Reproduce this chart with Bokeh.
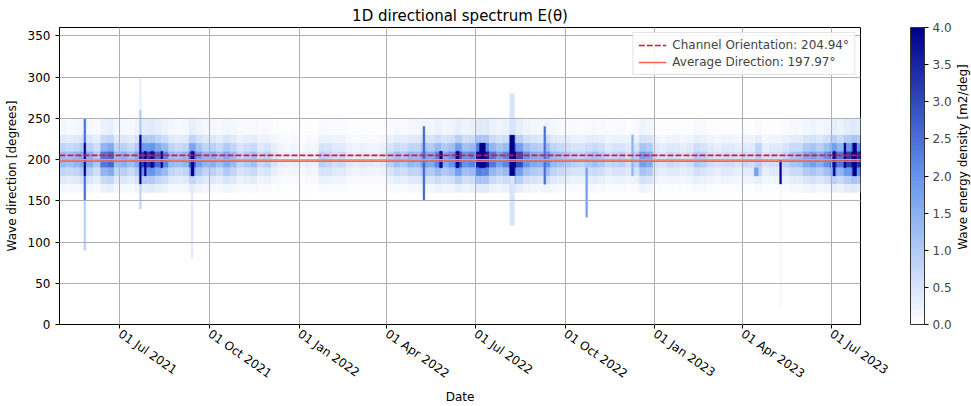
import math
from datetime import datetime, timedelta

from bokeh.plotting import figure
from bokeh.layouts import row
from bokeh.models import (LinearColorMapper, ColorBar, FixedTicker, PrintfTickFormatter,
                          DatetimeTickFormatter, Range1d, Legend, LegendItem, Label,
                          ColumnDataSource)
from bokeh.embed import file_html
from bokeh.resources import INLINE

# ---------------- data ----------------
start_date = "2021-04-30"
end_date = "2023-07-31"
bin_days = 7

# weekly energy density [m2/deg] in the 190-210 deg core
core = [1.3, 1.2, 1.4, 1.6, 1.5, 1.0, 2.4, 2.6, 1.3, 1.5,
        1.2, 1.6, 3.2, 3.4, 2.6, 2.2, 1.3, 1.2, 1.4, 2.8,
        1.8, 1.4, 1.5, 1.2, 1.6, 1.3, 0.8, 1.0, 1.2, 0.7,
        0.9, 0.5, 0.3, 0.25, 0.3, 0.2, 0.3, 0.25, 0.9, 0.8,
        0.6, 0.7, 0.4, 0.3, 0.4, 0.35, 0.3, 0.4, 0.9, 1.2,
        1.0, 1.4, 1.3, 1.8, 1.6, 2.2, 1.6, 2.0, 3.0, 2.0,
        2.2, 3.8, 3.6, 2.4, 1.8, 2.2, 4.2, 3.0, 2.0, 1.6,
        1.5, 2.0, 1.3, 1.2, 1.0, 0.9, 0.8, 1.0, 1.2, 1.0,
        0.7, 0.8, 0.9, 0.6, 0.9, 1.8, 1.6, 0.6, 0.5, 0.7,
        0.6, 0.5, 0.6, 1.0, 0.9, 0.6, 0.5, 0.6, 0.6, 0.5,
        0.7, 0.6, 0.9, 0.5, 0.6, 0.6, 0.8, 1.1, 1.2, 1.6,
        1.8, 1.5, 2.0, 3.0, 2.4, 3.2, 3.6, 3.4]

# 180-190 and 210-220 deg
shoulder = [0.8, 0.7, 0.8, 1.0, 0.9, 0.6, 1.4, 1.6, 0.8, 0.9,
            0.7, 1.0, 1.9, 2.0, 1.6, 1.3, 0.8, 0.7, 0.8, 1.7,
            1.1, 0.8, 0.9, 0.7, 1.0, 0.8, 0.5, 0.6, 0.7, 0.4,
            0.5, 0.3, 0.2, 0.15, 0.2, 0.1, 0.2, 0.15, 0.5, 0.5,
            0.4, 0.4, 0.25, 0.2, 0.25, 0.2, 0.2, 0.25, 0.5, 0.7,
            0.6, 0.8, 0.8, 1.1, 1.0, 1.3, 1.0, 1.2, 1.8, 1.2,
            1.3, 2.3, 2.2, 1.4, 1.1, 1.3, 2.5, 1.8, 1.2, 1.0,
            0.9, 1.2, 0.8, 0.7, 0.6, 0.5, 0.5, 0.6, 0.7, 0.6,
            0.4, 0.5, 0.5, 0.4, 0.5, 1.1, 1.0, 0.4, 0.3, 0.4,
            0.4, 0.3, 0.4, 0.6, 0.5, 0.4, 0.3, 0.4, 0.4, 0.3,
            0.4, 0.4, 0.8, 0.3, 0.4, 0.4, 0.5, 0.7, 0.7, 1.0,
            1.1, 0.9, 1.2, 1.8, 1.4, 1.9, 2.2, 2.0]

# 170-180 and 220-230 deg
edge = [0.4, 0.35, 0.4, 0.5, 0.45, 0.3, 0.7, 0.8, 0.4, 0.45,
        0.35, 0.5, 1.0, 1.0, 0.8, 0.65, 0.4, 0.35, 0.4, 0.8,
        0.55, 0.4, 0.45, 0.35, 0.5, 0.4, 0.25, 0.3, 0.35, 0.2,
        0.25, 0.15, 0.1, 0.08, 0.1, 0.06, 0.1, 0.08, 0.25, 0.25,
        0.2, 0.2, 0.12, 0.1, 0.12, 0.1, 0.1, 0.12, 0.25, 0.35,
        0.3, 0.4, 0.4, 0.55, 0.5, 0.65, 0.5, 0.6, 0.9, 0.6,
        0.65, 1.1, 1.1, 0.7, 0.55, 0.65, 1.3, 0.9, 0.6, 0.5,
        0.45, 0.6, 0.4, 0.35, 0.3, 0.25, 0.25, 0.3, 0.35, 0.3,
        0.2, 0.25, 0.25, 0.2, 0.25, 0.55, 0.5, 0.2, 0.15, 0.2,
        0.2, 0.15, 0.2, 0.3, 0.25, 0.2, 0.15, 0.2, 0.2, 0.15,
        0.2, 0.2, 0.3, 0.15, 0.2, 0.2, 0.25, 0.35, 0.35, 0.5,
        0.55, 0.45, 0.6, 0.9, 0.7, 0.95, 1.1, 1.0]

# 160-170 and 230-250 deg
tail = [0.15, 0.12, 0.15, 0.2, 0.15, 0.1, 0.25, 0.3, 0.15, 0.15,
        0.12, 0.2, 0.35, 0.4, 0.3, 0.25, 0.15, 0.12, 0.15, 0.3,
        0.2, 0.15, 0.15, 0.12, 0.18, 0.15, 0.1, 0.1, 0.12, 0.08,
        0.1, 0.06, 0.04, 0.03, 0.04, 0.03, 0.04, 0.03, 0.1, 0.1,
        0.08, 0.08, 0.05, 0.04, 0.05, 0.04, 0.04, 0.05, 0.1, 0.12,
        0.1, 0.15, 0.15, 0.2, 0.18, 0.25, 0.18, 0.2, 0.3, 0.2,
        0.25, 0.4, 0.4, 0.25, 0.2, 0.25, 0.45, 0.3, 0.2, 0.18,
        0.15, 0.2, 0.15, 0.12, 0.1, 0.1, 0.08, 0.1, 0.12, 0.1,
        0.08, 0.08, 0.1, 0.06, 0.1, 0.2, 0.18, 0.06, 0.05, 0.07,
        0.06, 0.05, 0.06, 0.1, 0.1, 0.06, 0.05, 0.06, 0.06, 0.05,
        0.07, 0.06, 0.1, 0.05, 0.06, 0.06, 0.08, 0.12, 0.12, 0.18,
        0.2, 0.15, 0.2, 0.3, 0.25, 0.35, 0.4, 0.35]

# short energetic events
spike_dates = ["2021-05-25", "2021-05-25", "2021-05-25", "2021-05-25",
               "2021-07-21", "2021-07-21", "2021-07-21", "2021-07-21",
               "2021-07-26", "2021-08-02", "2021-08-12", "2021-09-12", "2021-09-12",
               "2022-05-08", "2022-05-25", "2022-06-11", "2022-07-05",
               "2022-08-05", "2022-08-05", "2022-08-05", "2022-09-09",
               "2022-10-22", "2022-12-08", "2023-04-13", "2023-05-09", "2023-05-09",
               "2023-07-03", "2023-07-14", "2023-07-23"]
spike_days = [2, 2, 2, 2, 2, 2, 2, 2, 2, 2, 2, 3, 2, 2, 3, 3, 6, 5, 5, 5, 2, 2, 2, 4, 2, 2, 2, 2, 4]
spike_lo = [180, 220, 150, 90, 170, 230, 260, 140, 180, 190, 190, 180, 80,
            150, 190, 190, 190, 180, 230, 120, 170, 130, 180, 180, 170, 20,
            180, 190, 180]
spike_hi = [220, 250, 180, 150, 230, 260, 300, 170, 210, 210, 210, 210, 170,
            240, 210, 210, 220, 230, 280, 180, 240, 190, 230, 190, 200, 170,
            210, 220, 220]
spike_val = [4.5, 2.5, 2.5, 0.9, 4.5, 1.0, 0.3, 0.8, 4.5, 4.5, 4.2, 4.5, 0.4,
             2.6, 4.5, 4.0, 4.2, 4.5, 0.5, 0.5, 2.5, 1.8, 1.4, 1.8, 4.5, 0.15,
             4.5, 4.5, 4.5]

channel_orientation = 204.94
average_direction = 197.97

x_tick_dates = ["2021-07-01", "2021-10-01", "2022-01-01", "2022-04-01", "2022-07-01",
                "2022-10-01", "2023-01-01", "2023-04-01", "2023-07-01"]
y_ticks = [0, 50, 100, 150, 200, 250, 300, 350]
cbar_ticks = [0.0, 0.5, 1.0, 1.5, 2.0, 2.5, 3.0, 3.5, 4.0]

# ---------------- helpers ----------------
EPOCH = datetime(1970, 1, 1)


def ms(d):
    if isinstance(d, str):
        d = datetime.strptime(d, "%Y-%m-%d")
    return (d - EPOCH).total_seconds() * 1000.0


t0 = datetime.strptime(start_date, "%Y-%m-%d")
t_end = datetime.strptime(end_date, "%Y-%m-%d")

bands = [(190, 210, core), (180, 190, shoulder), (210, 220, shoulder),
         (170, 180, edge), (220, 230, edge), (160, 170, tail), (230, 250, tail)]

L, R, B, T, V = [], [], [], [], []
for lo, hi, arr in bands:
    for i, v in enumerate(arr):
        a = t0 + timedelta(days=bin_days * i)
        b = min(a + timedelta(days=bin_days), t_end)
        if a >= t_end:
            continue
        L.append(ms(a)); R.append(ms(b)); B.append(lo); T.append(hi); V.append(v)

for d, n, lo, hi, v in zip(spike_dates, spike_days, spike_lo, spike_hi, spike_val):
    a = datetime.strptime(d, "%Y-%m-%d")
    L.append(ms(a)); R.append(ms(a + timedelta(days=n))); B.append(lo); T.append(hi); V.append(v)

src = ColumnDataSource(dict(left=L, right=R, bottom=B, top=T, v=V))


def lerp_palette(stops, n=256):
    out = []
    for k in range(n):
        f = k / (n - 1) * (len(stops) - 1)
        j = min(int(f), len(stops) - 2)
        u = f - j
        c0, c1 = stops[j], stops[j + 1]
        rgb = [round(c0[m] + (c1[m] - c0[m]) * u) for m in range(3)]
        out.append("#%02x%02x%02x" % tuple(rgb))
    return out


palette = lerp_palette([(255, 255, 255), (100, 149, 237), (0, 0, 139)])
mapper = LinearColorMapper(palette=palette, low=0.0, high=4.0)

FONT = "DejaVu Sans"
MAIN_W = 954
STRIP_W = 971 - MAIN_W
H = 406

p = figure(width=MAIN_W, height=H, x_axis_type="datetime",
           output_backend="svg", toolbar_location=None,
           x_range=Range1d(ms(t0), ms(t_end)), y_range=Range1d(0, 360),
           min_border_left=59, min_border_right=93, min_border_top=27, min_border_bottom=79)
p.border_fill_color = "white"

p.quad(left="left", right="right", bottom="bottom", top="top", source=src,
       fill_color={"field": "v", "transform": mapper},
       line_color={"field": "v", "transform": mapper}, line_width=0.3)

xs = [ms(t0), ms(t_end)]
r_ch = p.line(xs, [channel_orientation] * 2, line_color="#DC143C", line_width=1.6,
              line_dash="6 2")
r_av = p.line(xs, [average_direction] * 2, line_color="#FF6347", line_width=1.6)
r_ch.level = "overlay"
r_av.level = "overlay"

# title / axes
p.title.text = "1D directional spectrum E(θ)"
p.title.align = "center"
p.title.text_font = FONT
p.title.text_font_size = "15px"
p.title.text_font_style = "normal"
p.title.text_color = "#000000"
p.title.standoff = 5

p.xaxis.ticker = FixedTicker(ticks=[ms(d) for d in x_tick_dates])
fmt = "%d %b %Y"
p.xaxis.formatter = DatetimeTickFormatter(milliseconds=fmt, seconds=fmt, minsec=fmt, minutes=fmt,
                                          hourmin=fmt, hours=fmt, days=fmt, months=fmt, years=fmt)
p.xaxis.major_label_orientation = -math.radians(35)
p.yaxis.ticker = FixedTicker(ticks=y_ticks)
p.xaxis.axis_label = "Date"
p.yaxis.axis_label = "Wave direction [degrees]"

for ax in (p.xaxis, p.yaxis):
    ax.axis_label_text_font = FONT
    ax.axis_label_text_font_size = "12px"
    ax.axis_label_text_font_style = "normal"
    ax.axis_label_text_color = "#000000"
    ax.major_label_text_font = FONT
    ax.major_label_text_font_size = "12px"
    ax.major_label_text_color = "#000000"
    ax.major_tick_in = 0
    ax.major_tick_out = 4
    ax.minor_tick_in = 0
    ax.minor_tick_out = 0
    ax.axis_line_color = "#000000"
    ax.major_tick_line_color = "#000000"
p.xaxis.major_label_standoff = 4
p.xaxis.axis_label_standoff = 0
p.yaxis.axis_label_standoff = 6

p.outline_line_color = "#000000"
p.outline_line_width = 1
p.xgrid.grid_line_color = "#b0b0b0"
p.ygrid.grid_line_color = "#b0b0b0"
p.xgrid.level = "annotation"
p.ygrid.level = "annotation"

legend = Legend(items=[LegendItem(label="Channel Orientation: %.2f°" % channel_orientation, renderers=[r_ch]),
                       LegendItem(label="Average Direction: %.2f°" % average_direction, renderers=[r_av])],
                location="top_right")
legend.label_text_font = FONT
legend.label_text_font_size = "12px"
legend.border_line_color = "#cccccc"
legend.background_fill_alpha = 0.85
legend.glyph_width = 28
legend.glyph_height = 14
legend.label_height = 14
legend.spacing = 3
legend.padding = 5
legend.margin = 5
legend.label_standoff = 6
p.add_layout(legend)

cb = ColorBar(color_mapper=mapper, ticker=FixedTicker(ticks=cbar_ticks),
              formatter=PrintfTickFormatter(format="%.1f"),
              width=14, height="auto", margin=0, padding=0, location=(50, 0),
              major_tick_in=0, major_tick_out=4, major_tick_line_color="#000000",
              bar_line_color="#333333", label_standoff=4,
              major_label_text_font=FONT, major_label_text_font_size="12px",
              border_line_color=None, background_fill_color=None)
p.add_layout(cb, "right")

# narrow strip holding the colour-bar title
p2 = figure(width=STRIP_W, height=H, output_backend="svg", toolbar_location=None,
            x_range=Range1d(0, STRIP_W), y_range=Range1d(0, H),
            x_axis_location=None, y_axis_location=None,
            min_border_left=0, min_border_right=0, min_border_top=0, min_border_bottom=0)
p2.outline_line_color = None
p2.xgrid.visible = False
p2.ygrid.visible = False
p2.border_fill_color = "white"
cb_title = Label(x=962 - MAIN_W, y=H - 177, text="Wave energy density [m2/deg]",
                 angle=90, angle_units="deg", text_align="center", text_baseline="middle",
                 text_font=FONT, text_font_size="12px", text_color="#000000")
p2.add_layout(cb_title)

layout = row(p, p2, spacing=0)
open("out.html", "w").write(file_html(layout, INLINE))
